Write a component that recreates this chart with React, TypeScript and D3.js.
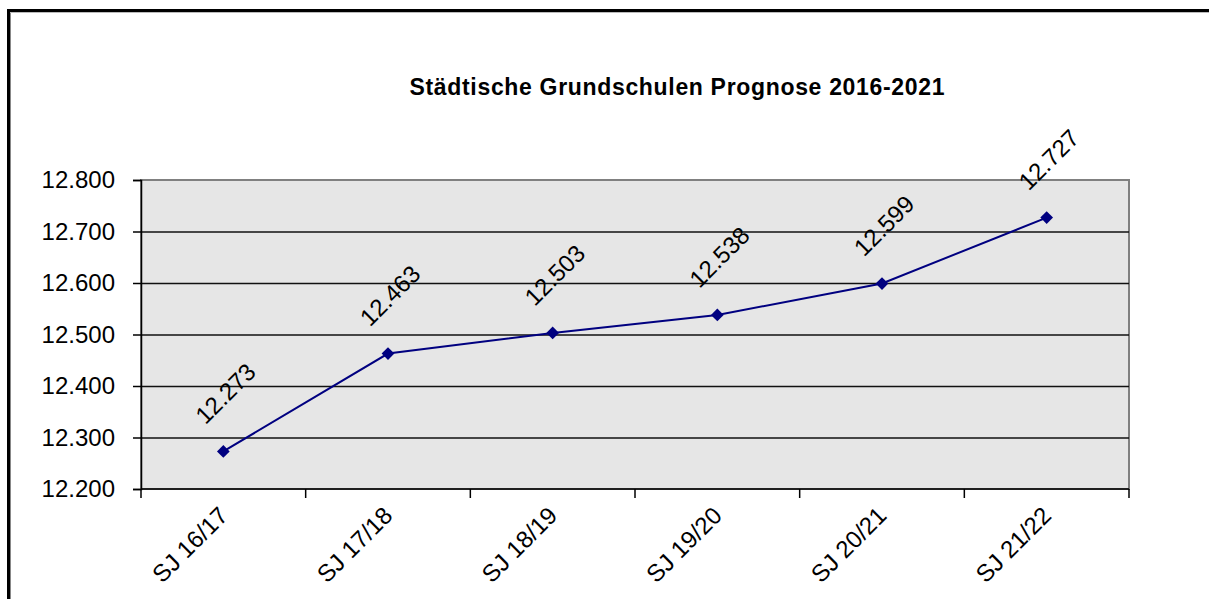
import { useEffect, useRef } from "react";
import * as d3 from "d3";

const categories = ["SJ 16/17", "SJ 17/18", "SJ 18/19", "SJ 19/20", "SJ 20/21", "SJ 21/22"];
const pupils = [12273, 12463, 12503, 12538, 12599, 12727];
const yTicks = [12200, 12300, 12400, 12500, 12600, 12700, 12800];

const fmt = (v: number) => d3.format(",.0f")(v).replace(/,/g, ".");

const App = () => {
  const svgRef = useRef<SVGSVGElement | null>(null);

  useEffect(() => {
    const svg = d3.select(svgRef.current);
    svg.selectAll("*").remove();

    const width = 1209;
    const height = 599;
    const plot = { left: 141, top: 180, right: 1129, bottom: 489 };
    const font = "'Liberation Sans', Arial, sans-serif";

    svg.attr("width", width).attr("height", height);

    svg.append("rect").attr("width", width).attr("height", height).attr("fill", "white");

    // chart frame (runs off the window to the right and bottom)
    svg.append("rect")
      .attr("x", 8.5).attr("y", 10.5)
      .attr("width", 1400).attr("height", 800)
      .attr("fill", "none").attr("stroke", "#000").attr("stroke-width", 3);
    svg.append("line")
      .attr("x1", 10.5).attr("x2", 10.5).attr("y1", 12).attr("y2", height)
      .attr("stroke", "#888").attr("stroke-width", 1);
    svg.append("line")
      .attr("x1", 10).attr("x2", width).attr("y1", 12.5).attr("y2", 12.5)
      .attr("stroke", "#bbb").attr("stroke-width", 1);

    const x = d3.scaleBand().domain(categories).range([plot.left, plot.right]);
    const y = d3.scaleLinear().domain([12200, 12800]).range([plot.bottom, plot.top]);

    svg.append("rect")
      .attr("x", plot.left).attr("y", plot.top)
      .attr("width", plot.right - plot.left).attr("height", plot.bottom - plot.top)
      .attr("fill", "#e6e6e6").attr("stroke", "#808080").attr("stroke-width", 2);

    // gridlines
    svg.append("g")
      .selectAll("line")
      .data(yTicks.slice(1, -1))
      .join("line")
      .attr("x1", plot.left).attr("x2", plot.right)
      .attr("y1", (d) => y(d) + 0.5).attr("y2", (d) => y(d) + 0.5)
      .attr("stroke", "#111").attr("stroke-width", 1.3);

    // y axis
    const yAxis = svg.append("g").attr("transform", `translate(${plot.left},0)`)
      .call(d3.axisLeft(y).tickValues(yTicks).tickSize(8).tickPadding(18).tickFormat((d) => fmt(+d)));
    yAxis.select(".domain").attr("stroke", "#000").attr("stroke-width", 1.5);
    yAxis.selectAll(".tick line").attr("stroke", "#000").attr("stroke-width", 1.5);
    yAxis.selectAll("text").attr("font-family", font).attr("font-size", 24).attr("fill", "#000");

    // x axis
    const xAxis = svg.append("g").attr("transform", `translate(0,${plot.bottom})`);
    xAxis.append("line")
      .attr("x1", plot.left).attr("x2", plot.right)
      .attr("stroke", "#000").attr("stroke-width", 1.5);
    const bounds = [...categories.map((c) => x(c) as number), plot.right];
    xAxis.selectAll("line.tick")
      .data(bounds)
      .join("line")
      .attr("class", "tick")
      .attr("x1", (d) => d).attr("x2", (d) => d)
      .attr("y1", 0).attr("y2", 9)
      .attr("stroke", "#000").attr("stroke-width", 1.5);
    xAxis.selectAll("text")
      .data(categories)
      .join("text")
      .attr("transform", (d) => `translate(${(x(d) as number) + x.bandwidth() / 2 + 6},${28}) rotate(-45)`)
      .attr("text-anchor", "end")
      .attr("font-family", font)
      .attr("font-size", 24)
      .text((d) => d);

    // title
    svg.append("text")
      .attr("x", 677).attr("y", 95)
      .attr("text-anchor", "middle")
      .attr("font-family", font)
      .attr("font-size", 23)
      .attr("font-weight", "bold")
      .attr("textLength", 535)
      .attr("lengthAdjust", "spacing")
      .text("Städtische Grundschulen Prognose 2016-2021");

    const cx = (i: number) => (x(categories[i]) as number) + x.bandwidth() / 2;

    const line = d3.line<number>()
      .x((_, i) => cx(i))
      .y((d) => y(d));

    svg.append("path")
      .datum(pupils)
      .attr("fill", "none")
      .attr("stroke", "#000080")
      .attr("stroke-width", 2)
      .attr("d", line);

    svg.append("g")
      .selectAll("path")
      .data(pupils)
      .join("path")
      .attr("transform", (d, i) => `translate(${cx(i)},${y(d)}) rotate(45)`)
      .attr("d", "M-4.5,-4.5H4.5V4.5H-4.5Z")
      .attr("fill", "#000080");

    svg.append("g")
      .selectAll("text")
      .data(pupils)
      .join("text")
      .attr("transform", (d, i) => `translate(${cx(i) + 2},${y(d) - 58}) rotate(-45)`)
      .attr("text-anchor", "middle")
      .attr("dominant-baseline", "central")
      .attr("font-family", font)
      .attr("font-size", 24)
      .text((d) => fmt(d));
  }, []);

  return <svg ref={svgRef} style={{ position: "absolute", left: 0, top: 0 }} />;
};

export default App;
